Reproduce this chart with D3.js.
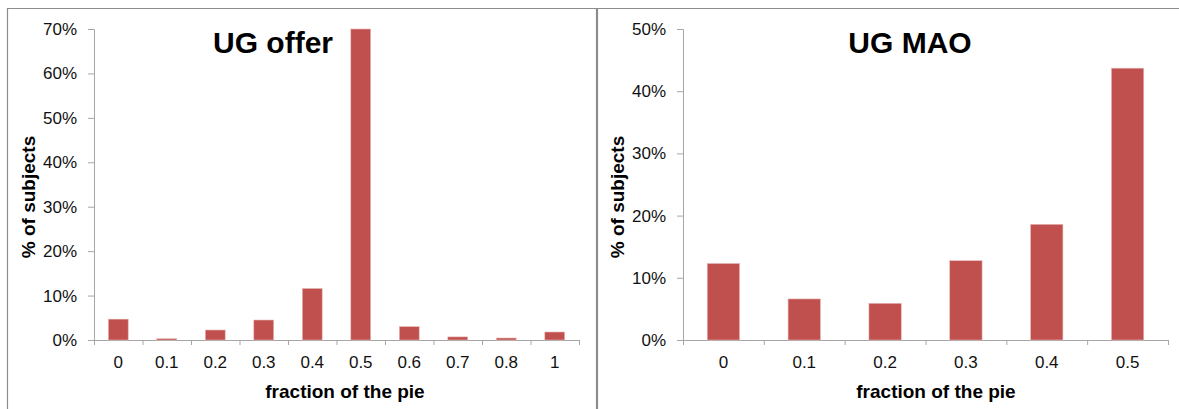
<!DOCTYPE html>
<html>
<head>
<meta charset="utf-8">
<script src="https://cdn.jsdelivr.net/npm/d3@7"></script>
<style>
  html, body { margin: 0; padding: 0; background: #fff; }
  svg { display: block; }
  text { font-family: Arial, "Liberation Sans", sans-serif; }
</style>
</head>
<body>
<svg id="chart" width="1179" height="409"></svg>
<script>
// ---- Data ----
const offerCategories = ["0", "0.1", "0.2", "0.3", "0.4", "0.5", "0.6", "0.7", "0.8", "1"];
const offerValues = [0.047, 0.003, 0.0225, 0.045, 0.116, 0.70, 0.030, 0.007, 0.0045, 0.018];
const offerTicks = [0, 0.1, 0.2, 0.3, 0.4, 0.5, 0.6, 0.7];

const maoCategories = ["0", "0.1", "0.2", "0.3", "0.4", "0.5"];
const maoValues = [0.123, 0.066, 0.059, 0.1275, 0.186, 0.437];
const maoTicks = [0, 0.1, 0.2, 0.3, 0.4, 0.5];

const titles = ["UG offer", "UG MAO"];
const xLabel = "fraction of the pie";
const yLabel = "% of subjects";

const svg = d3.select("#chart");
const BAR = "#C0504D";
const AXIS = "#A6A6A6";
const FRAME = "#8C8C8C";
const FONT = "Arial, 'Liberation Sans', sans-serif";

// Frame lines
svg.append("line").attr("x1", 7).attr("x2", 1179).attr("y1", 8.5).attr("y2", 8.5)
  .attr("stroke", FRAME).attr("stroke-width", 1.2);
svg.append("line").attr("x1", 7.5).attr("x2", 7.5).attr("y1", 8).attr("y2", 409)
  .attr("stroke", FRAME).attr("stroke-width", 1.2);
svg.append("line").attr("x1", 597).attr("x2", 597).attr("y1", 8).attr("y2", 409)
  .attr("stroke", FRAME).attr("stroke-width", 2.2);

function panel(cfg) {
  const g = svg.append("g");
  const x = d3.scaleBand().domain(cfg.categories).range([cfg.x0, cfg.x1]).paddingInner(0).paddingOuter(0);
  const y = d3.scaleLinear().domain([0, cfg.ymax]).range([cfg.y0, cfg.y1]);
  const fmt = d3.format(".0%");

  // Y axis
  const yAxis = g.append("g").attr("transform", `translate(${cfg.x0},0)`)
    .call(d3.axisLeft(y).tickValues(cfg.ticks).tickFormat(fmt).tickSize(6).tickPadding(11));
  yAxis.attr("font-size", 17).attr("font-family", FONT);
  yAxis.select(".domain").attr("stroke", AXIS);
  yAxis.selectAll(".tick line").attr("stroke", AXIS);
  yAxis.selectAll(".tick text").attr("fill", "#111");

  // X axis, ticks on category boundaries
  const xAxis = g.append("g").attr("transform", `translate(0,${cfg.y0})`)
    .call(d3.axisBottom(x).tickSize(0).tickPadding(16));
  xAxis.attr("font-size", 17).attr("font-family", FONT);
  xAxis.select(".domain").attr("stroke", AXIS);
  xAxis.selectAll(".tick text").attr("fill", "#111");
  const bounds = cfg.categories.map(c => x(c)).concat([cfg.x1]);
  g.selectAll("line.xb").data(bounds).join("line").attr("class", "xb")
    .attr("x1", d => d + 0.5).attr("x2", d => d + 0.5)
    .attr("y1", cfg.y0).attr("y2", cfg.y0 + 5).attr("stroke", AXIS);

  // Bars
  const bw = x.bandwidth() * cfg.barFrac;
  g.selectAll("rect.bar").data(cfg.values).join("rect").attr("class", "bar")
    .attr("x", (d, i) => x(cfg.categories[i]) + (x.bandwidth() - bw) / 2)
    .attr("width", bw)
    .attr("y", d => y(d))
    .attr("height", d => cfg.y0 - y(d))
    .attr("fill", BAR)
    .attr("stroke", "#E6B9B8").attr("stroke-width", 0.6);

  // Title
  g.append("text").attr("x", cfg.titleX).attr("y", 53).attr("text-anchor", "middle")
    .style("font-size", "30px").attr("font-weight", "bold").attr("fill", "#000").text(cfg.title);

  // Axis labels
  g.append("text").attr("x", cfg.xLabelX).attr("y", 398).attr("text-anchor", "middle")
    .style("font-size", "19px").attr("font-weight", "bold").attr("fill", "#000").text(xLabel);
  g.append("text").attr("transform", `translate(${cfg.yLabelX},197) rotate(-90)`)
    .attr("text-anchor", "middle").style("font-size", "19px").attr("font-weight", "bold")
    .attr("fill", "#000").text(yLabel);
}

panel({
  categories: offerCategories, values: offerValues, ticks: offerTicks, ymax: 0.7,
  x0: 94, x1: 579, y0: 340, y1: 29, barFrac: 0.41,
  title: titles[0], titleX: 273, xLabelX: 345, yLabelX: 35
});
panel({
  categories: maoCategories, values: maoValues, ticks: maoTicks, ymax: 0.5,
  x0: 683, x1: 1168, y0: 340, y1: 29, barFrac: 0.40,
  title: titles[1], titleX: 910, xLabelX: 936, yLabelX: 624
});
</script>
</body>
</html>
